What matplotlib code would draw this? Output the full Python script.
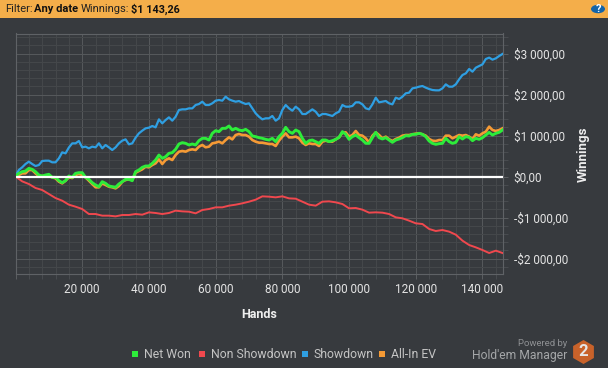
import matplotlib
matplotlib.use("Agg")
import matplotlib.pyplot as plt
from matplotlib.patches import Rectangle, RegularPolygon, Circle
from matplotlib.ticker import MultipleLocator, FuncFormatter

W, H = 608, 368
BG = "#373a3e"

hands = list(range(0, 147000, 1000))
showdown = [12, 159, 224, 305, 362, 305, 256, 280, 378, 386, 386, 346, 346, 443, 589, 565, 707, 809, 809, 866,
            711, 728, 687, 728, 711, 809, 687, 768, 711, 646, 711, 809, 874, 906, 785, 809, 947, 1053, 1118, 1175,
            1191, 1232, 1199, 1394, 1297, 1378, 1443, 1362, 1459, 1622,
            1638, 1638, 1662, 1662, 1744, 1768, 1825, 1744, 1744, 1785, 1850, 1866, 1850, 1947, 1882, 1850, 1825,
            1841, 1801, 1768, 1785, 1663, 1541, 1459, 1394, 1419, 1419, 1476, 1362, 1419, 1622, 1744, 1662, 1606,
            1703, 1638, 1524, 1524, 1581, 1638, 1581, 1476, 1524, 1524, 1500, 1476, 1541, 1581, 1744,
            1703, 1703, 1720, 1809, 1809, 1760, 1663, 1638, 1760, 1923, 1809, 1825, 1842, 1785, 1760, 1923, 1890,
            1947, 2029, 2045, 2150, 2167, 2191, 2207, 2167, 2134, 2110, 2102, 2102, 2150, 2248, 2191, 2191, 2248,
            2370, 2476, 2516, 2622, 2557, 2654, 2695, 2736, 2866, 2899, 2850, 2882, 2939, 2988]
net_won = [12, 77, 118, 134, 199, 175, 118, 37, 12, 37, 53, -20, -20, -102, -150, -102, 12, -20, 77, 93,
           93, -20, -69, -150, -207, -248, -126, -167, -232, -248, -264, -183, -126, -69, -69, -102, 118, 159, 224,
           256, 256, 321, 402, 524, 443, 484, 565, 581, 663, 793,
           825, 809, 769, 793, 769, 874, 931, 931, 890, 1053, 1118, 1094, 1175, 1175, 1232, 1134, 1175, 1134, 1118,
           1150, 1094, 988, 972, 947, 931, 906, 890, 931, 850, 972, 1053, 1199, 1094, 1053, 1134, 1094, 931, 809,
           874, 890, 850, 809, 890, 890, 850, 874, 906, 955, 1094,
           1029, 907, 972, 1012, 947, 890, 809, 809, 947, 1077, 947, 915, 947, 890, 833, 890, 915, 947, 996, 988,
           1029, 1029, 1053, 1029, 972, 866, 809, 785, 801, 809, 931, 850, 809, 833, 972, 915, 972, 955, 874, 931,
           907, 947, 1012, 1077, 1012, 1053, 1077, 1134]
all_in_ev = [12, 37, 77, 77, 158, 158, 77, 12, 12, 12, 12, -20, -45, -126, -167, -102, -20, -37, 37, 61,
             37, -20, -102, -183, -264, -264, -167, -207, -248, -264, -289, -232, -126, -85, -69, -85, 93, 134, 175,
             240, 224, 280, 321, 419, 305, 402, 443, 402, 524, 606,
             622, 606, 646, 663, 646, 728, 769, 712, 728, 809, 825, 850, 809, 890, 955, 906, 1012, 1037, 1012, 1012,
             972, 890, 850, 825, 825, 809, 793, 793, 744, 874, 972, 1053, 955, 955, 972, 931, 825, 769, 809, 793,
             793, 744, 850, 874, 850, 850, 906, 955, 1069,
             1077, 972, 1012, 1110, 1012, 996, 931, 833, 996, 1077, 1012, 931, 972, 907, 866, 915, 947, 996, 1012,
             1012, 1029, 1045, 1053, 1029, 996, 915, 874, 866, 890, 890, 996, 996, 931, 972, 1012, 996, 1012, 972,
             915, 1029, 996, 1053, 1094, 1216, 1134, 1110, 1134, 1175]
hands_ns = list(range(0, 148000, 2000))
non_showdown = [0, -118, -183, -280, -329, -427, -525, -590, -687, -736, -793, -915, -915, -955, -955, -972, -939,
                -939, -915, -931, -874, -890, -915, -890, -833, -850, -858, -898, -817, -793, -752, -752, -711,
                -687, -654, -614, -565, -484, -492, -508, -484, -533, -541, -614, -687, -711, -614, -606, -630,
                -671, -776, -768, -809, -882, -874, -882, -915, -996, -1020, -1077, -1142, -1159, -1280, -1329,
                -1305, -1345, -1419, -1565, -1671, -1728, -1793, -1866, -1809, -1866]
legend_names = ["Net Won", "Non Showdown", "Showdown", "All-In EV"]
legend_colors = ["#2dec3a", "#f0484e", "#2f9fe2", "#f59a35"]
legend_box_x = [132, 199, 302, 379]

plt.rcParams["font.family"] = ["Roboto", "DejaVu Sans"]
fig = plt.figure(figsize=(W / 100, H / 100), dpi=100, facecolor=BG)


def fx(px):
    return px / W


def fy(px):
    return 1 - px / H


# top bar
fig.add_artist(Rectangle((0, fy(18)), 1, 18 / H, transform=fig.transFigure, color="#f4ae4a", lw=0))
fig.text(fx(5), fy(9.5), "Filter:", fontsize=8, color="#222222", va="center")
fig.text(fx(34), fy(9.5), "Any date", fontsize=8, color="#111111", va="center", fontweight="bold")
fig.text(fx(81), fy(9.5), "Winnings:", fontsize=8, color="#222222", va="center")
fig.text(fx(131), fy(9.5), "$1 143,26", fontsize=7.8, color="#111111", va="center", fontweight="bold")
fig.add_artist(Circle((fx(598), fy(9)), 7 / W, transform=fig.transFigure, color="#1464a8", lw=0))
fig.text(fx(598), fy(9), "?", fontsize=8, color="white", ha="center", va="center", fontweight="bold")

left, right, top, bottom = 15.5, 502.5, 33.5, 274
ax = fig.add_axes([fx(left), fy(bottom), (right - left) / W, (bottom - top) / H], facecolor=BG)
ax.set_xlim(0, 146000)
ax.set_ylim(-2378, 3488)

ax.xaxis.set_major_locator(MultipleLocator(20000))
ax.xaxis.set_minor_locator(MultipleLocator(4000))
ax.yaxis.set_major_locator(MultipleLocator(1000))
ax.yaxis.set_minor_locator(MultipleLocator(200))
ax.xaxis.set_major_formatter(FuncFormatter(lambda v, p: f"{int(v):,}".replace(",", " ") if v > 0 else ""))


def money(v, p):
    s = f"${abs(int(v)):,},00".replace(",", " ", 1) if abs(v) >= 1000 else "$0,00"
    return "-" + s if v < 0 else s


ax.yaxis.set_major_formatter(FuncFormatter(money))
ax.yaxis.tick_right()
ax.grid(which="major", color="#55585b", lw=0.72)
ax.grid(which="minor", color="#44474a", lw=0.72)
ax.set_axisbelow(True)
ax.tick_params(which="major", length=3.6, width=0.72, color="#5a5d60", labelcolor="#e4e4e4", labelsize=8.5, pad=2.8)
ax.tick_params(which="minor", length=3.6, width=0.72, color="#484b4f")
ax.tick_params(axis="y", pad=4.5)
for s in ax.spines.values():
    s.set_color("#5f6266")
    s.set_linewidth(0.8)

ax.plot(hands, showdown, color=legend_colors[2], lw=1.6, zorder=3)
ax.plot(hands_ns, non_showdown, color=legend_colors[1], lw=1.4, zorder=3)
ax.plot(hands, all_in_ev, color=legend_colors[3], lw=1.9, zorder=4)
ax.plot(hands, net_won, color=legend_colors[0], lw=2.1, zorder=5)
ax.axhline(0, color="white", lw=1.6, zorder=6)

fig.text(fx(259), fy(314), "Hands", fontsize=9, color="#eeeeee", fontweight="bold", ha="center", va="center")
fig.text(fx(583), fy(154), "Winnings", fontsize=9.5, color="#eeeeee", fontweight="bold", rotation=90,
         ha="center", va="center")

for name, col, x in zip(legend_names, legend_colors, legend_box_x):
    fig.add_artist(Rectangle((fx(x), fy(357)), 6 / W, 6 / H, transform=fig.transFigure, color=col, lw=0))
    fig.text(fx(x + 12), fy(354.5), name, fontsize=8.8, color="#c4c4c4", va="center")

fig.text(fx(567), fy(343), "Powered by", fontsize=6.8, color="#8f9194", ha="right", va="center")
fig.text(fx(567), fy(355), "Hold'em Manager", fontsize=8.7, color="#a4a6a8", ha="right", va="center")
fig.add_artist(RegularPolygon((583.5, H - 352), 6, radius=12, orientation=0, transform=None,
                              color="#c8622a", lw=0))
fig.text(fx(583.5), fy(352), "2", fontsize=12, color="#e6e6e6", fontweight="bold", ha="center", va="center")

fig.savefig("out.png", dpi=100, facecolor=BG)
